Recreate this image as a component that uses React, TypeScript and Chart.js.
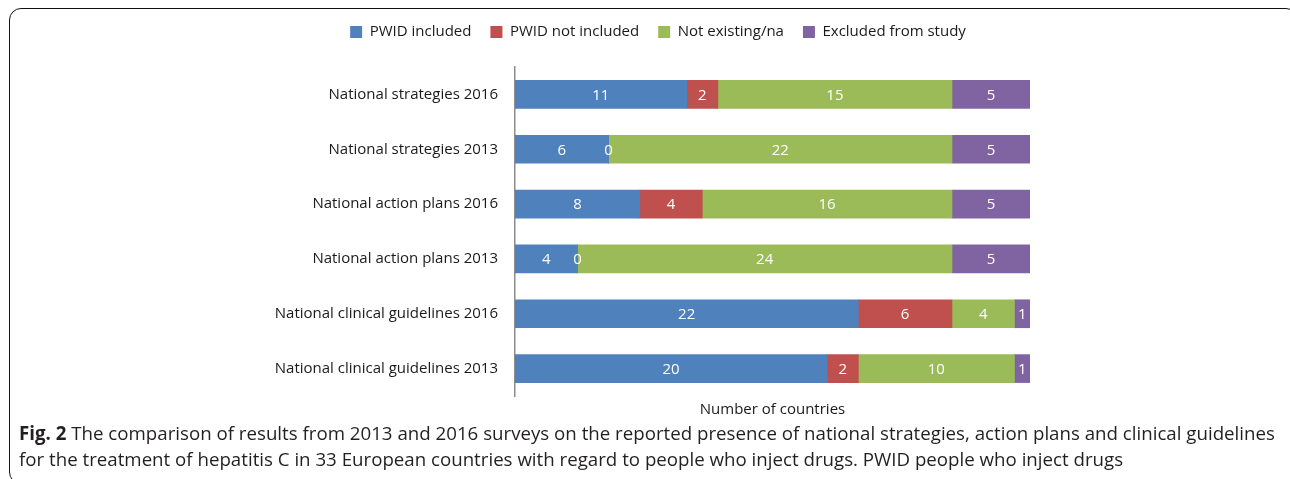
import React, { useEffect, useRef } from "react";
import { Chart, registerables } from "chart.js";

Chart.register(...registerables);

const categories = [
  "National strategies 2016",
  "National strategies 2013",
  "National action plans 2016",
  "National action plans 2013",
  "National clinical guidelines 2016",
  "National clinical guidelines 2013",
];
const pwidIncluded = [11, 6, 8, 4, 22, 20];
const pwidNotIncluded = [2, 0, 4, 0, 6, 2];
const notExisting = [15, 22, 16, 24, 4, 10];
const excluded = [5, 5, 5, 5, 1, 1];
const seriesNames = ["PWID included", "PWID not included", "Not existing/na", "Excluded from study"];
const seriesColors = ["#4F81BD", "#C0504D", "#9BBB59", "#8064A2"];
const axisTitle = "Number of countries";
const xMax = 33;

const FONT = "'Open Sans', sans-serif";

const legendSpacer = {
  id: "legendSpacer",
  beforeInit(chart: any) {
    const orig = chart.legend.fit;
    chart.legend.fit = function fit() {
      orig.bind(chart.legend)();
      this.height += 8;
    };
  },
  beforeDraw(chart: any) {
    if (chart.legend) {
      chart.legend.left = 0;
      chart.legend.right = chart.width;
      chart.legend.top = -4.5;
    }
  },
};

const barLabels = {
  id: "barLabels",
  afterDatasetsDraw(chart: any) {
    const ctx = chart.ctx;
    ctx.save();
    ctx.fillStyle = "#ffffff";
    ctx.font = `15px ${FONT}`;
    ctx.textAlign = "center";
    ctx.textBaseline = "middle";
    chart.data.datasets.forEach((ds: any, di: number) => {
      const meta = chart.getDatasetMeta(di);
      meta.data.forEach((el: any, i: number) => {
        const p = el.getCenterPoint();
        ctx.fillText(String(ds.data[i]), p.x, p.y + 1);
      });
    });
    ctx.restore();
  },
};

export default function App() {
  const ref = useRef<HTMLCanvasElement | null>(null);
  useEffect(() => {
    if (!ref.current) return;
    const data = [pwidIncluded, pwidNotIncluded, notExisting, excluded];
    const chart = new Chart(ref.current, {
      type: "bar",
      data: {
        labels: categories,
        datasets: data.map((d, i) => ({
          label: seriesNames[i],
          data: d,
          backgroundColor: seriesColors[i],
          borderWidth: 0,
          barThickness: 28,
        })),
      },
      options: {
        indexAxis: "y",
        animation: false,
        responsive: false,
        maintainAspectRatio: false,
        layout: { padding: { top: 5, right: 258, left: 0, bottom: 0 } },
        plugins: {
          legend: {
            position: "top",
            labels: {
              boxWidth: 12,
              boxHeight: 12,
              color: "#1a1a1a",
              font: { family: FONT, size: 15 },
              padding: 19,
            },
          },
          tooltip: { enabled: false },
        },
        scales: {
          x: {
            stacked: true,
            min: 0,
            max: xMax,
            grid: { display: false, drawTicks: false },
            border: { display: false },
            ticks: { display: false },
            title: {
              display: true,
              text: axisTitle,
              color: "#1a1a1a",
              font: { family: FONT, size: 15 },
              padding: { top: 5, bottom: 0 },
            },
          },
          y: {
            stacked: true,
            grid: { display: false, drawTicks: false },
            border: { display: true, color: "#8c8c8c", width: 1.5 },
            ticks: {
              color: "#1a1a1a",
              font: { family: FONT, size: 15 },
              padding: 17,
            },
            afterFit(scale: any) {
              scale.width = 487;
            },
          },
        },
      },
      plugins: [legendSpacer, barLabels],
    });
    return () => chart.destroy();
  }, []);

  return (
    <div style={{ position: "absolute", left: 0, top: 0, width: 1290, height: 479, overflow: "hidden", background: "#fff" }}>
      <div
        style={{
          position: "absolute",
          left: 9,
          top: 8,
          width: 1289,
          height: 476,
          border: "1.5px solid #111",
          borderRadius: 12,
          boxSizing: "border-box",
        }}
      />
      <canvas
        ref={ref}
        width={1260}
        height={412}
        style={{ position: "absolute", left: 28, top: 10, width: 1260, height: 412 }}
      />
      <div
        style={{
          position: "absolute",
          left: 19,
          top: 420,
          fontFamily: FONT,
          fontSize: 18.7,
          lineHeight: "26px",
          color: "#231f20",
          whiteSpace: "nowrap",
        }}
      >
        <b>Fig. 2</b> The comparison of results from 2013 and 2016 surveys on the reported presence of national strategies, action plans and clinical guidelines
        <br />
        for the treatment of hepatitis C in 33 European countries with regard to people who inject drugs. PWID people who inject drugs
      </div>
    </div>
  );
}
